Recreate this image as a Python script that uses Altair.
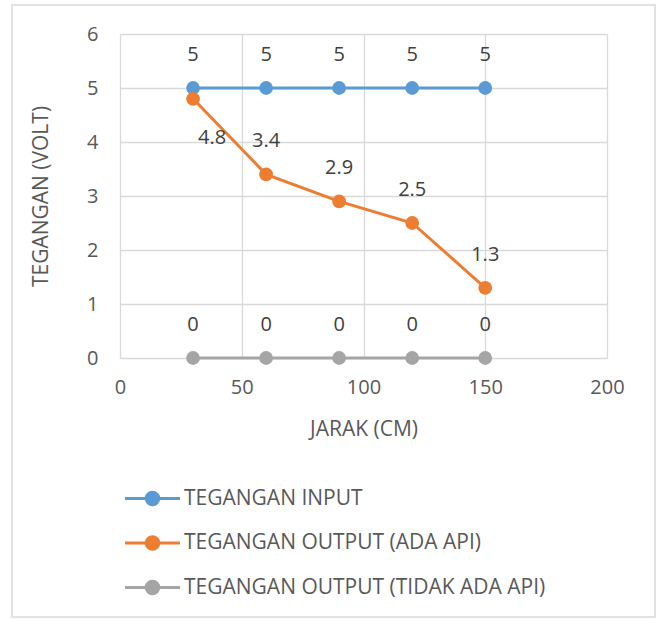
import altair as alt
import pandas as pd

jarak = [30, 60, 90, 120, 150]
series_names = ["TEGANGAN INPUT", "TEGANGAN OUTPUT (ADA API)", "TEGANGAN OUTPUT (TIDAK ADA API)"]
tegangan_input = [5, 5, 5, 5, 5]
output_ada_api = [4.8, 3.4, 2.9, 2.5, 1.3]
output_tidak_ada_api = [0, 0, 0, 0, 0]
colors = ["#5B9BD5", "#ED7D31", "#A5A5A5"]
x_ticks = [0, 50, 100, 150, 200]
y_ticks = [0, 1, 2, 3, 4, 5, 6]

rows = []
for name, vals in zip(series_names, [tegangan_input, output_ada_api, output_tidak_ada_api]):
    for i, (x, v) in enumerate(zip(jarak, vals)):
        rows.append({"series": name, "jarak": x, "volt": v, "idx": i})
df = pd.DataFrame(rows)

FONT = "Open Sans"
TXT = "#595959"

r1, r2, r3 = 0.32, 0.21, 0.08
def circ(r):
    return f"M-{r},0A{r},{r} 0 1,0 {r},0A{r},{r} 0 1,0 -{r},0"
sym_path = "M-1.4,0L1.4,0" + circ(r1) + circ(r2) + circ(r3)

xenc = alt.X("jarak:Q", title="JARAK (CM)",
             scale=alt.Scale(domain=[0, 200], nice=False),
             axis=alt.Axis(values=x_ticks, format="d", labelFlush=False,
                           labelPadding=19, titlePadding=21))
yenc = alt.Y("volt:Q", title="TEGANGAN (VOLT)",
             scale=alt.Scale(domain=[0, 6], nice=False),
             axis=alt.Axis(values=y_ticks, format="d", labelPadding=22, titlePadding=35))
color = alt.Color("series:N", scale=alt.Scale(domain=series_names, range=colors),
                  legend=alt.Legend(title=None, orient="none", legendX=11, legendY=443,
                                    direction="vertical", symbolType=sym_path,
                                    symbolSize=1544, symbolStrokeWidth=3,
                                    labelOffset=10, rowPadding=10.5, padding=0,
                                    labelFont=FONT, labelFontSize=21, labelColor=TXT,
                                    labelLimit=500))

base = alt.Chart(df)

lines = base.mark_line(strokeWidth=3, point=alt.OverlayMarkDef(filled=True, size=190, opacity=1)).encode(
    x=xenc, y=yenc, color=color, order="idx:Q")

is_first_orange = (alt.datum.series == series_names[1]) & (alt.datum.idx == 0)

labels = base.mark_text(dy=-33, fontSize=20, font=FONT, color="#404040").encode(
    x="jarak:Q", y="volt:Q", text=alt.Text("volt:Q")
).transform_filter(~is_first_orange)

label_special = base.mark_text(dx=19, dy=39, fontSize=20, font=FONT, color="#404040").encode(
    x="jarak:Q", y="volt:Q", text=alt.Text("volt:Q")
).transform_filter(is_first_orange)

frame = alt.Chart(pd.DataFrame({"a": [0]})).mark_rect(
    fill=None, stroke="#d9d9d9", strokeWidth=1.5, clip=False
).encode(x=alt.value(-108), x2=alt.value(535), y=alt.value(-29), y2=alt.value(583))

chart = alt.layer(frame, lines, labels, label_special).properties(
    width=487, height=324,
    background="white",
    autosize=alt.AutoSizeParams(type="none"),
    padding={"left": 120, "top": 34, "right": 52, "bottom": 261},
).configure_view(stroke=None).configure_axis(
    grid=True, gridColor="#d9d9d9", gridWidth=1.3, domain=False, ticks=False,
    labelFont=FONT, labelFontSize=20, labelColor=TXT,
    titleFont=FONT, titleFontSize=21, titleFontWeight="normal", titleColor=TXT,
)

chart.save("out.html", embed_options={"renderer": "svg", "actions": False})
